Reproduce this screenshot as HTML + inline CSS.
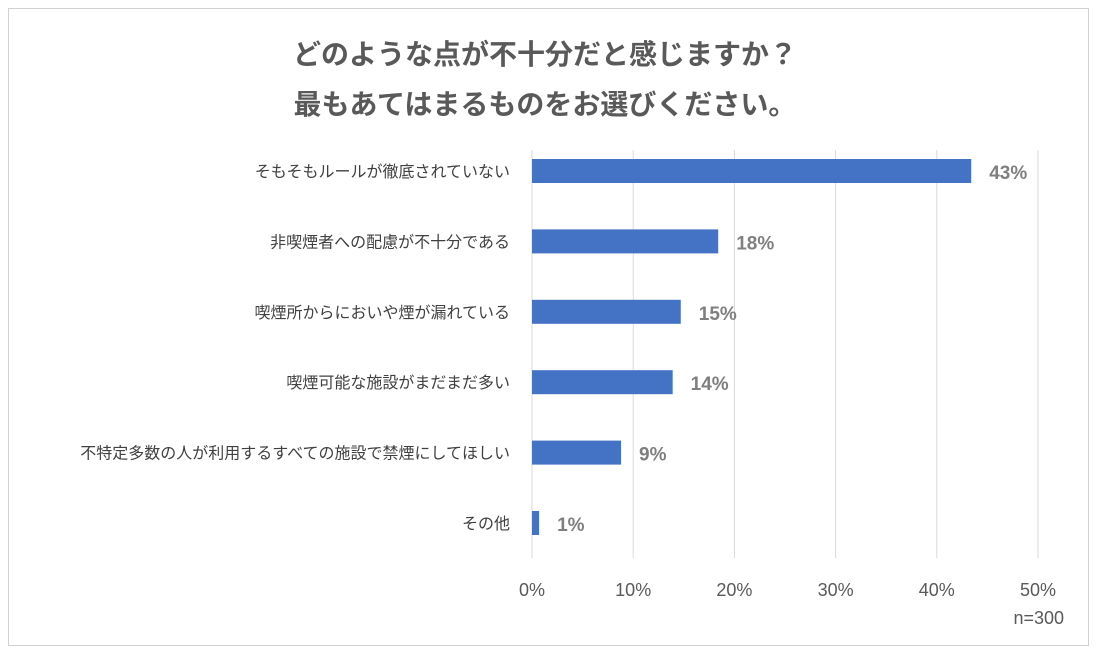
<!DOCTYPE html>
<html><head><meta charset="utf-8"><style>
body{margin:0;background:#fff;width:1097px;height:653px;overflow:hidden}
svg{display:block;font-family:"Liberation Sans","Noto Sans CJK JP",sans-serif}
</style></head><body>
<svg id="chart" width="1097" height="653">
<rect x="8.5" y="8.5" width="1080" height="637" fill="#fff" stroke="#d0d0d0"/>
<text x="545" y="64" text-anchor="middle" font-size="28" font-weight="bold" fill="#595959">どのような点が不十分だと感じますか？</text>
<text x="545" y="114" text-anchor="middle" font-size="28" font-weight="bold" fill="#595959">最もあてはまるものをお選びください。</text>
<g id="grid"></g><g id="bars"></g>
<text x="1064" y="624" text-anchor="end" font-size="18" fill="#595959">n=300</text>
</svg>
<script>
const categories=["そもそもルールが徹底されていない","非喫煙者への配慮が不十分である","喫煙所からにおいや煙が漏れている","喫煙可能な施設がまだまだ多い","不特定多数の人が利用するすべての施設で禁煙にしてほしい","その他"];
const values=[43.4,18.4,14.7,13.9,8.8,0.7];
const valueLabels=["43%","18%","15%","14%","9%","1%"];
const ticks=[0,10,20,30,40,50];
const tickLabels=["0%","10%","20%","30%","40%","50%"];
const NS="http://www.w3.org/2000/svg";
const x0=532,x1=1038,plotTop=150,plotBottom=558,maxV=50;
const xs=v=>x0+(v/maxV)*(x1-x0);
const yc=i=>171+i*70.4;
function mk(t,a,p){const e=document.createElementNS(NS,t);for(const k in a)e.setAttribute(k,a[k]);p.appendChild(e);return e;}
const g=document.getElementById('grid'),b=document.getElementById('bars');
ticks.forEach((t,i)=>{
 const l=mk('line',{x1:xs(t),x2:xs(t),y1:plotTop,y2:plotBottom,stroke:'#d9d9d9','stroke-width':1},g);
 
 
 const tx=mk('text',{x:xs(t),y:596,'text-anchor':'middle','font-size':18,fill:'#595959'},g);
 tx.textContent=tickLabels[i];
 
 
});
categories.forEach((c,i)=>{
 const y=yc(i);
 const r=mk('rect',{x:x0,y:y-12,width:xs(values[i])-x0,height:24,fill:'#4472c4'},b);
 
 
 const cl=mk('text',{x:510,y:y+6,'text-anchor':'end','font-size':16,fill:'#404040'},b);
 cl.textContent=c;
 
 
 const vl=mk('text',{x:xs(values[i])+18,y:y+8,'font-size':19,'font-weight':'bold',fill:'#7f7f7f'},b);
 vl.textContent=valueLabels[i];
 
 
});
</script>
</body></html>
